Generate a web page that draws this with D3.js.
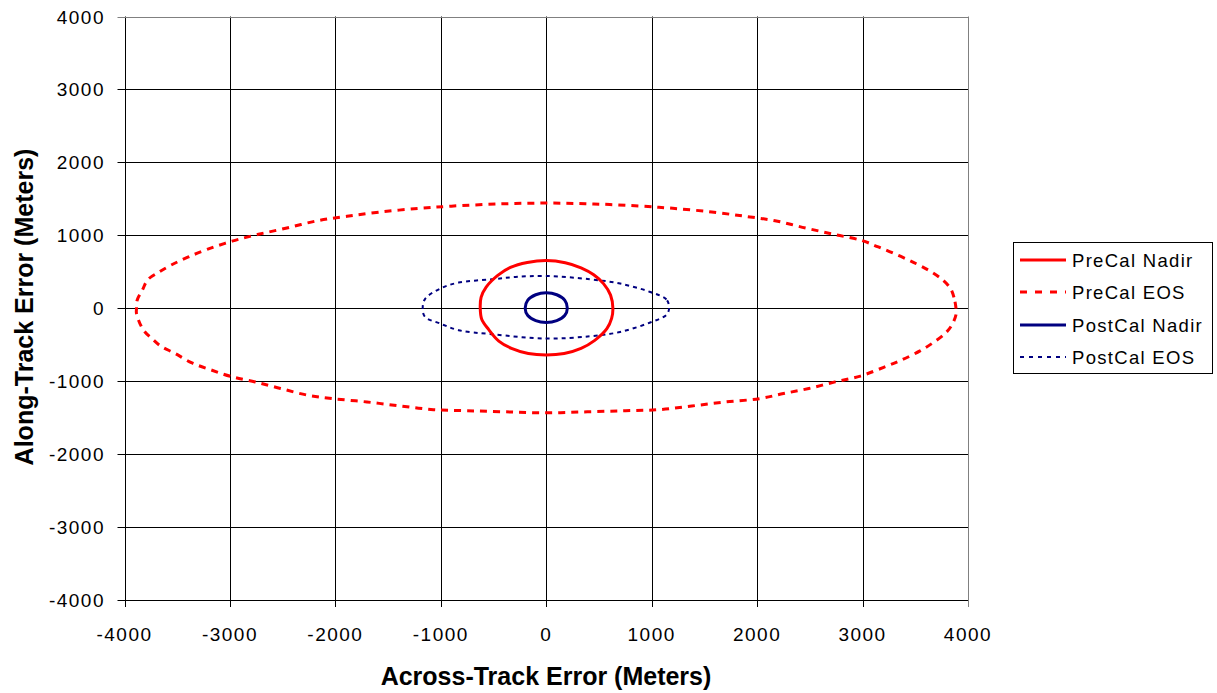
<!DOCTYPE html>
<html><head><meta charset="utf-8">
<script src="https://cdn.jsdelivr.net/npm/d3@7"></script>
<style>
html,body{margin:0;padding:0;background:#fff;}
svg{display:block;font-family:Arial,"Liberation Sans",sans-serif;}
</style></head>
<body><svg id="c" width="1217" height="693"></svg>
<script>
const xTicks = [-4000,-3000,-2000,-1000,0,1000,2000,3000,4000];
const yTicks = [-4000,-3000,-2000,-1000,0,1000,2000,3000,4000];
const seriesNames = ["PreCal Nadir","PreCal EOS","PostCal Nadir","PostCal EOS"];

const preNadirX = [632,610,543,450,330,180,0,-180,-340,-460,-570,-618,-626,-612,-547,-450,-330,-170,0,170,330,460,575,620];
const preNadirY = [0,180,338,460,555,625,655,628,560,450,290,150,0,-150,-290,-450,-550,-620,-640,-620,-550,-440,-280,-140];

const preEosX = [3886,3867,3830,3750,3640,3510,3340,3150,2990,2740,2460,2170,1890,1570,1200,900,450,0,-450,-900,-1200,-1570,-1890,-2170,-2460,-2740,-2980,-3210,-3400,-3560,-3680,-3780,-3830,-3880,-3886,-3886,-3820,-3740,-3660,-3520,-3360,-3170,-2980,-2760,-2520,-2270,-2020,-1700,-1380,-1070,-750,-390,0,390,750,1070,1380,1700,2020,2250,2490,2740,2980,3200,3370,3545,3656,3780,3845,3886];
const preEosY = [0,150,280,400,510,610,725,840,930,1010,1100,1200,1260,1320,1370,1400,1430,1442,1430,1400,1370,1320,1260,1200,1100,1010,920,810,700,590,490,390,250,110,0,-75,-300,-415,-515,-620,-750,-850,-940,-1010,-1100,-1190,-1240,-1285,-1340,-1390,-1405,-1420,-1434,-1420,-1405,-1390,-1340,-1285,-1240,-1170,-1100,-1010,-930,-810,-710,-585,-485,-350,-235,-90];

const postNadirX = [200,175,100,0,-100,-175,-200,-175,-100,0,100,175];
const postNadirY = [0,110,185,212,185,110,0,-100,-170,-195,-170,-100];

const postEosX = [1165,1140,986,701,417,0,-294,-515,-831,-1005,-1147,-1172,-1150,-1005,-831,-515,0,417,701,986,1140];
const postEosY = [0,120,223,338,397,442,429,397,352,270,133,0,-119,-210,-301,-356,-415,-384,-325,-195,-90];

const svg = d3.select("#c");
const x = d3.scaleLinear().domain([-4000,4000]).range([124.5,968]);
const y = d3.scaleLinear().domain([-4000,4000]).range([600,16.5]);

// grid
const g = svg.append("g");
g.selectAll(".vx").data(xTicks).join("line")
  .attr("x1",d=>Math.round(x(d))+0.5).attr("x2",d=>Math.round(x(d))+0.5)
  .attr("y1",y(4000)).attr("y2",y(-4000)+7)
  .attr("stroke",d=>d===4000?"#808080":"#000").attr("stroke-width",1);
g.selectAll(".hy").data(yTicks).join("line")
  .attr("y1",d=>Math.round(y(d))+0.5).attr("y2",d=>Math.round(y(d))+0.5)
  .attr("x1",x(-4000)-7).attr("x2",x(4000))
  .attr("stroke",d=>d===4000?"#808080":"#000").attr("stroke-width",1);

// tick labels
g.selectAll(".xl").data(xTicks).join("text")
  .attr("x",d=>x(d)).attr("y",641).attr("text-anchor","middle")
  .attr("font-size",19).attr("letter-spacing",1.5).text(d=>d);
g.selectAll(".yl").data(yTicks).join("text")
  .attr("x",105).attr("y",d=>y(d)+7).attr("text-anchor","end")
  .attr("font-size",19).attr("letter-spacing",1.5).text(d=>d);

svg.append("text").attr("x",546).attr("y",685).attr("text-anchor","middle")
  .attr("font-size",25).attr("font-weight","bold").text("Across-Track Error (Meters)");
svg.append("text").attr("transform","translate(33,307) rotate(-90)").attr("text-anchor","middle")
  .attr("font-size",25).attr("font-weight","bold").text("Along-Track Error (Meters)");

const line = d3.line().x(d=>x(d[0])).y(d=>y(d[1])).curve(d3.curveCatmullRomClosed);
const zip = (a,b)=>a.map((v,i)=>[v,b[i]]);

const styles = [
  {color:"#FF0000", w:3, dash:null, pts:zip(preNadirX,preNadirY)},
  {color:"#FF0000", w:3, dash:"7,6", pts:zip(preEosX,preEosY)},
  {color:"#000080", w:3, dash:null, pts:zip(postNadirX,postNadirY)},
  {color:"#000080", w:2, dash:"4,4", pts:zip(postEosX,postEosY)}
];
const plot = svg.append("g");
[3,1,0,2].forEach(i=>{
  const s = styles[i];
  plot.append("path").attr("d",line(s.pts)).attr("fill","none")
    .attr("stroke",s.color).attr("stroke-width",s.w)
    .attr("stroke-dasharray",s.dash).attr("stroke-linejoin","round");
});

// legend
const lg = svg.append("g");
lg.append("rect").attr("x",1013.5).attr("y",242.5).attr("width",199).attr("height",131)
  .attr("fill","#fff").attr("stroke","#000").attr("stroke-width",1);
const ly = [260,292,325,357];
seriesNames.forEach((n,i)=>{
  const s = styles[i];
  lg.append("line").attr("x1",1020).attr("x2",1066).attr("y1",ly[i]).attr("y2",ly[i])
    .attr("stroke",s.color).attr("stroke-width",s.w)
    .attr("stroke-dasharray",i===1?"7,8":(i===3?"4,5":null));
  lg.append("text").attr("x",1072).attr("y",ly[i]+6.5).attr("font-size",18.5)
    .attr("letter-spacing",1.3).text(n);
});
</script></body></html>
